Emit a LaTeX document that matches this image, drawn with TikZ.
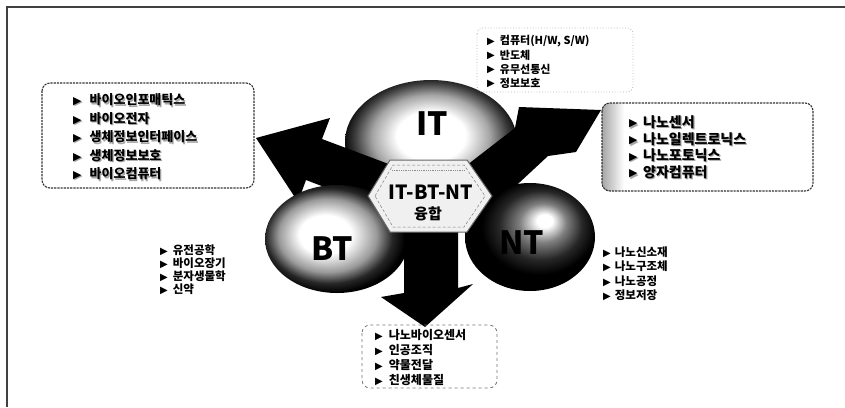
\documentclass[tikz,border=0pt]{standalone}
\usepackage{fontspec}
\setmainfont{Noto Sans CJK KR}
\newfontfamily\symf{DejaVu Sans}
\pgfdeclareradialshading{shIT}{\pgfpoint{0bp}{3bp}}{color(0bp)=(white); color(10bp)=(white); color(17bp)=(black!35); color(22bp)=(black!75); color(25bp)=(black!95); color(50bp)=(black)}
\pgfdeclareradialshading{shBT}{\pgfpoint{-5bp}{2.5bp}}{color(0bp)=(white); color(9bp)=(white); color(17bp)=(black!40); color(22bp)=(black!85); color(26bp)=(black); color(50bp)=(black)}
\pgfdeclareradialshading{shNT}{\pgfpoint{6bp}{8bp}}{color(0bp)=(white); color(3bp)=(white); color(9bp)=(black!50); color(16bp)=(black!85); color(22bp)=(black); color(50bp)=(black)}
\newcommand\tri[2]{\raisebox{0.3pt}{\symf\fontsize{#1}{#1}\selectfont ▶}\hspace{#2}}
\tikzset{
  lst/.style={anchor=west, inner sep=0pt, font=\bfseries\fontsize{#1}{#1}\selectfont},
  boxline/.style={rounded corners=8pt, line width=1.1pt, black!80, dash pattern=on 2.2pt off 1pt},
  arrowfill/.style={fill=black},
  sphlabel/.style={inner sep=0pt, font=\bfseries\fontsize{32}{32}\selectfont},
}
\newcommand\shitem[6]{%
  \node[lst=#5, text=black!35] (#1s) at (#2+1.2,#3+1.2) {\tri{11}{#6}#4};
  \node[lst=#5] (#1) at (#2,#3) {\tri{11}{#6}#4};}
\begin{document}
\begin{tikzpicture}[x=1pt,y=-1pt]
\useasboundingbox (0,0) rectangle (845,407);
% frame
\draw[line width=1.3pt, black!75] (7,407) -- (7,7) -- (845,7);

% IT sphere
\path[shading=shIT] (431,142) ellipse [x radius=86pt, y radius=62pt];
% arrows 1 and 2
\fill[arrowfill] (256,138) -- (330,118) -- (322,139) -- (402,169) -- (387,211) -- (306,180) -- (298,202) -- cycle;
\fill[arrowfill] (601,110) -- (519,107) -- (515,128) -- (458,172) -- (492,208) -- (548,156) -- (576,152) -- cycle;
% BT and NT spheres
\path[shading=shBT] (337,239) ellipse [x radius=72pt, y radius=54pt];
\path[shading=shNT] (530,237) ellipse [x radius=65pt, y radius=54pt];
% arrow 3
\fill[arrowfill] (404,222) -- (404,293) -- (381,297) -- (425,327) -- (473,284) -- (458,288) -- (458,222) -- cycle;

% hexagon
\filldraw[fill=black!6, draw=black!60, line width=1pt] (368,196) -- (390,160) -- (467,160) -- (492,196) -- (467,232) -- (390,232) -- cycle;
\draw[black!50, densely dashed, line width=0.5pt] (375,196) -- (393,165) -- (464,165) -- (485,196) -- (464,227) -- (393,227) -- cycle;
\draw[black!45, densely dotted, line width=0.8pt] (392,170) -- (465,170);
\node[inner sep=0pt, font=\bfseries\fontsize{19.5}{20}\selectfont] (hub1) at (431,192) {IT-BT-NT};
\node[inner sep=0pt, font=\bfseries\fontsize{15}{15}\selectfont] (hub2) at (428,214) {융합};

% sphere labels
\node[sphlabel] (it) at (432,124) {IT};
\node[sphlabel] (bt) at (332,249) {BT};
\node[sphlabel] (nt) at (522,243) {NT};

% boxes
\draw[boxline] (42,83) rectangle (254,188);
\begin{scope}
  \clip[rounded corners=8pt] (602,103) rectangle (813,191);
  \fill[left color=black!35, right color=white] (602,103) rectangle (624,191);
\end{scope}
\draw[boxline] (602,103) rectangle (813,191);
\draw[black!30, dotted, line width=0.8pt, rounded corners=6pt] (477,28) rectangle (633,92);
\draw[black!55, line width=0.8pt, dash pattern=on 3pt off 3pt, rounded corners=8pt] (362,325) rectangle (497,388);

% left box items
\shitem{lb1}{73}{100}{바이오인포매틱스}{13}{8pt}
\shitem{lb2}{73}{118.5}{바이오전자}{13}{8pt}
\shitem{lb3}{73}{137}{생체정보인터페이스}{13}{8pt}
\shitem{lb4}{73}{155.5}{생체정보보호}{13}{8pt}
\shitem{lb5}{73}{174}{바이오컴퓨터}{13}{8pt}
% right box items
\shitem{rb1}{629}{122}{나노센서}{14}{5.5pt}
\shitem{rb2}{629}{139}{나노일렉트로닉스}{14}{5.5pt}
\shitem{rb3}{629}{155.5}{나노포토닉스}{14}{5.5pt}
\shitem{rb4}{629}{172}{양자컴퓨터}{14}{5.5pt}

% IT list
\node[lst=11] (i1) at (487,41) {\tri{10}{5pt}컴퓨터(H/W, S/W)};
\node[lst=11] (i2) at (487,55) {\tri{10}{5pt}반도체};
\node[lst=11] (i3) at (487,69) {\tri{10}{5pt}유무선통신};
\node[lst=11] (i4) at (487,83) {\tri{10}{5pt}정보보호};
% BT list
\node[lst=11.5] (b1) at (160,250) {\tri{10}{5pt}유전공학};
\node[lst=11.5] (b2) at (160,263) {\tri{10}{5pt}바이오장기};
\node[lst=11.5] (b3) at (160,276) {\tri{10}{5pt}분자생물학};
\node[lst=11.5] (b4) at (160,289) {\tri{10}{5pt}신약};
% NT list
\node[lst=11.5] (n1) at (603,252) {\tri{10}{4pt}나노신소재};
\node[lst=11.5] (n2) at (603,266.5) {\tri{10}{4pt}나노구조체};
\node[lst=11.5] (n3) at (603,281) {\tri{10}{4pt}나노공정};
\node[lst=11.5] (n4) at (603,295.5) {\tri{10}{4pt}정보저장};
% bottom list
\node[lst=12] (m1) at (375,335) {\tri{10}{6pt}나노바이오센서};
\node[lst=12] (m2) at (375,350) {\tri{10}{6pt}인공조직};
\node[lst=12] (m3) at (375,365) {\tri{10}{6pt}약물전달};
\node[lst=12] (m4) at (375,380) {\tri{10}{6pt}친생체물질};
\end{tikzpicture}
\end{document}
